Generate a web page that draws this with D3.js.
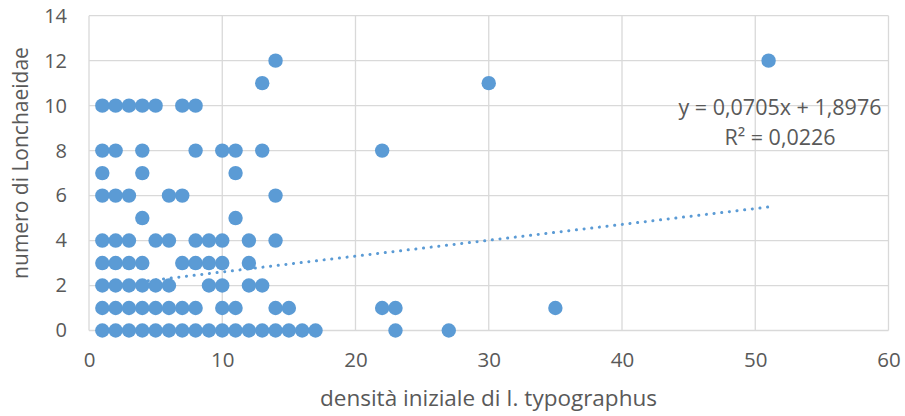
<!DOCTYPE html>
<html>
<head>
<meta charset="utf-8">
<script src="https://cdn.jsdelivr.net/npm/d3@7"></script>
<style>
  body { margin: 0; background: #fff; }
  svg { display: block; }
  text { font-family: "Open Sans", Lato, sans-serif; fill: #595959; }
</style>
</head>
<body>
<svg width="905" height="416"></svg>
<script>
// observations grouped by number of Lonchaeidae (y) -> list of initial densities (x)
var yLevels = [0, 1, 2, 3, 4, 5, 6, 7, 8, 10, 11, 12]
var xByLevel = [
  [1,2,3,4,5,6,7,8,9,10,11,12,13,14,15,16,17,23,27],
  [1,2,3,4,5,6,7,8,10,11,14,15,22,23,35],
  [1,2,3,4,5,6,9,10,12,13],
  [1,2,3,4,7,8,9,10,12],
  [1,2,3,5,6,8,9,10,12,14],
  [4,11],
  [1,2,3,6,7,14],
  [1,4,11],
  [1,2,4,8,10,11,13,22],
  [1,2,3,4,5,7,8],
  [13,30],
  [14,51]
]
var xTicks = [0, 10, 20, 30, 40, 50, 60]
var yTicks = [0, 2, 4, 6, 8, 10, 12, 14]
var slope = 0.0705
var intercept = 1.8976
var eqLabel = 'y = 0,0705x + 1,8976'
var r2Label = 'R² = 0,0226'
var xTitle = 'densità iniziale di I. typographus'
var yTitle = 'numero di Lonchaeidae'

var points = []
yLevels.forEach(function(y, i){
    xByLevel[i].forEach(function(x){ points.push({x: x, y: y}) })
})

var svg = d3.select('svg')
var blue = '#5b9bd5'

var x = d3.scaleLinear().domain([0, 60]).range([89, 888.5])
var y = d3.scaleLinear().domain([0, 14]).range([330.5, 15.7])

// gridlines
var grid = svg.append('g')
grid.selectAll('line.h').data(yTicks).enter().append('line')
    .attr('x1', x(0)).attr('x2', x(60))
    .attr('y1', d => y(d)).attr('y2', d => y(d))
    .style('stroke', '#d9d9d9').style('stroke-width', 1.3)
grid.selectAll('line.v').data(xTicks).enter().append('line')
    .attr('y1', y(0)).attr('y2', y(14))
    .attr('x1', d => x(d)).attr('x2', d => x(d))
    .style('stroke', '#d9d9d9').style('stroke-width', 1.3)

// axes (labels only)
var gx = svg.append('g').attr('transform', 'translate(0,' + y(0) + ')')
    .call(d3.axisBottom(x).tickValues(xTicks).tickSize(0).tickPadding(22))
var gy = svg.append('g').attr('transform', 'translate(' + x(0) + ',0)')
    .call(d3.axisLeft(y).tickValues(yTicks).tickSize(0).tickPadding(22))
svg.selectAll('.domain').remove()
svg.selectAll('.tick text').style('fill', '#595959')
    .style('font-family', '"Open Sans", sans-serif')
gx.selectAll('.tick text').style('font-size', '20.5px')
gy.selectAll('.tick text').style('font-size', '20px')

// trendline
var xs = points.map(d => d.x)
var lineData = [d3.min(xs), d3.max(xs)].map(v => [v, slope * v + intercept])
svg.append('path')
    .attr('d', d3.line().x(d => x(d[0])).y(d => y(d[1]))(lineData))
    .style('fill', 'none')
    .style('stroke', blue)
    .style('stroke-width', 3)
    .style('stroke-linecap', 'round')
    .style('stroke-dasharray', '0.1 7.6')

// points
svg.append('g').selectAll('circle').data(points).enter().append('circle')
    .attr('cx', d => x(d.x))
    .attr('cy', d => y(d.y))
    .attr('r', 7.2)
    .style('fill', blue)

// regression label
svg.append('text').attr('x', 780).attr('y', 115).attr('text-anchor', 'middle')
    .style('font-size', '21.5px').text(eqLabel)
svg.append('text').attr('x', 780).attr('y', 145).attr('text-anchor', 'middle')
    .style('font-size', '21.5px').text(r2Label)

// titles
svg.append('text').attr('x', 488.5).attr('y', 406).attr('text-anchor', 'middle')
    .style('font-size', '22.5px').text(xTitle)
svg.append('text').attr('transform', 'translate(28,163) rotate(-90)')
    .attr('text-anchor', 'middle')
    .style('font-size', '21px').text(yTitle)
</script>
</body>
</html>
